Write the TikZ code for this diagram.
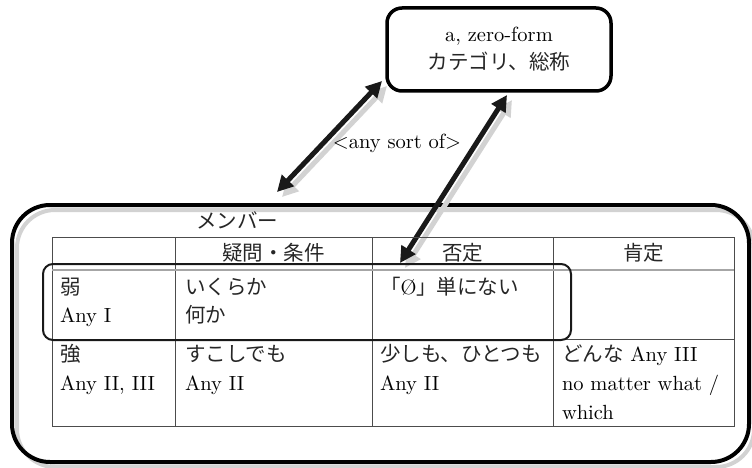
\documentclass[tikz,border=0pt]{standalone}
\usepackage{fontspec}
\setmainfont{lmroman10-regular.otf}
\newfontfamily\jp{Noto Sans CJK JP}[Color=262626]
\usetikzlibrary{arrows.meta}
\begin{document}
\begin{tikzpicture}[x=1pt,y=-1pt,
  every node/.style={inner sep=0pt, outer sep=0pt, font=\fontsize{20.5}{28}\selectfont},
  bigarrow/.style={line width=5pt,
    {Triangle[length=16pt,width=16pt]}-{Triangle[length=16pt,width=16pt]}},
  shade/.style={draw=gray!35, fill=none},
  grid/.style={draw=black!70, line width=1pt},
  cell/.style={anchor=base west},
  head/.style={anchor=base}
]
\path[use as bounding box] (0,0) rectangle (752,468);

% outer frame with its soft shadow
\draw[shade, line width=4pt, rounded corners=38pt] (17,210) rectangle (754,467);
\draw[line width=4pt, rounded corners=38pt] (12,205) rectangle (749,462);

% category box
\node[draw, line width=3.5pt, rounded corners=15pt, minimum width=224pt,
  minimum height=83pt, align=center] (cat) at (499,49.5)
  {a, zero-form\\{\jp カテゴリ、総称}};

% arrow end points
\coordinate (a1low) at (277,192);
\coordinate (a1up) at (382,81);
\coordinate (a2up) at (507,95);
\coordinate (a2low) at (400,263);

% arrows with shadows
\draw[bigarrow, draw=gray!35, fill=gray!35] ([xshift=5pt,yshift=-5pt]a1low) -- ([xshift=5pt,yshift=-5pt]a1up);
\draw[bigarrow, draw=gray!35, fill=gray!35] ([xshift=5pt,yshift=-5pt]a2up) -- ([xshift=5pt,yshift=-5pt]a2low);
\draw[bigarrow, draw=black!90] (a1low) -- (a1up);
\draw[bigarrow, draw=black!90] (a2up) -- (a2low);

\node[anchor=base] (sortof) at (397,149) {<any sort of>};

% table grid
\draw[grid] (52,237) rectangle (734,426);
\draw[grid] (175,237) -- (175,426);
\draw[grid] (372,237) -- (372,426);
\draw[grid] (553,237) -- (553,426);
\draw[draw=gray!70, line width=1.2pt] (52,270) -- (734,270);
\draw[grid] (52,339) -- (734,339);

% highlight around the weak row
\draw[draw=black!90, line width=2pt, rounded corners=10pt] (43,264) rectangle (571,340);

% labels
\node[head] (member) at (237,228) {\jp メンバー};
\node[head] (h2) at (273.5,260) {\jp 疑問・条件};
\node[head] (h3) at (462.5,260) {\jp 否定};
\node[head] (h4) at (643.5,260) {\jp 肯定};

\node[cell] (w1) at (60,294) {\jp 弱};
\node[cell] (w2) at (60,322) {Any I};
\node[cell] (w3) at (185,294) {\jp いくらか};
\node[cell] (w4) at (185,322) {\jp 何か};
\node[cell] (w5) at (380,294) {{\jp 「}Ø{\jp 」単にない}};

\node[cell] (s1) at (60,361) {\jp 強};
\node[cell] (s2) at (60,390) {Any II, III};
\node[cell] (s3) at (185,361) {\jp すこしでも};
\node[cell] (s4) at (185,390) {Any II};
\node[cell] (s5) at (380,361) {\jp 少しも、ひとつも};
\node[cell] (s6) at (380,390) {Any II};
\node[cell] (s7) at (562,361) {{\jp どんな} Any III};
\node[cell] (s8) at (562,390) {no matter what /};
\node[cell] (s9) at (562,419) {which};
\end{tikzpicture}
\end{document}
